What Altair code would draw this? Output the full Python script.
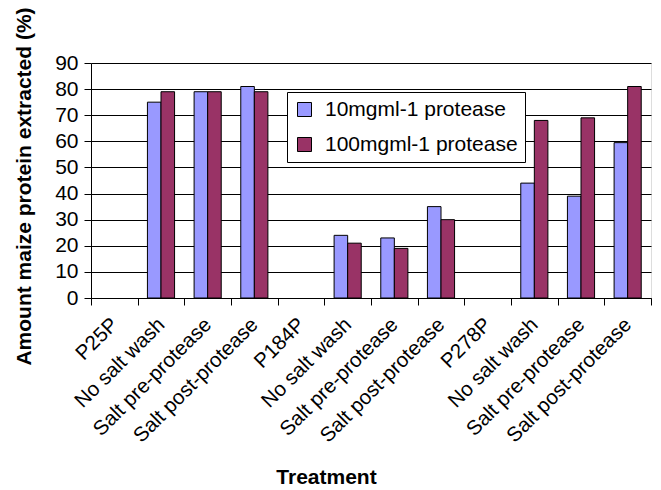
import altair as alt
import pandas as pd

labels = ["P25P", "No salt wash", "Salt pre-protease", "Salt post-protease",
          "P184P", "No salt wash", "Salt pre-protease", "Salt post-protease",
          "P278P", "No salt wash", "Salt pre-protease", "Salt post-protease"]
series = ["10mgml-1 protease", "100mgml-1 protease"]
# None = no bar
low = [None, 75, 79, 81, None, 24, 23, 35, None, 44, 39, 59.5]
high = [None, 79, 79, 79, None, 21, 19, 30, None, 68, 69, 81]

rows = []
for i, (a, b) in enumerate(zip(low, high)):
    if a is not None:
        rows.append({"idx": i, "series": series[0], "value": a})
    if b is not None:
        rows.append({"idx": i, "series": series[1], "value": b})
df = pd.DataFrame(rows)

label_js = "[" + ",".join("'" + s + "'" for s in labels) + "][datum.value]"
FONT = "Liberation Sans"

chart = alt.Chart(df).mark_bar(stroke="black", strokeWidth=1).encode(
    x=alt.X("idx:O",
            scale=alt.Scale(domain=list(range(12)), paddingInner=0, paddingOuter=0),
            axis=alt.Axis(title="Treatment", labelExpr=label_js, labelAngle=-45,
                          tickBand="extent", tickSize=7, tickColor="black",
                          domainColor="black", labelFontSize=20.5, labelFont=FONT,
                          labelColor="black", labelPadding=9, labelOffset=-7,
                          labelLimit=400, titleFont=FONT,
                          titleFontSize=21, titleFontWeight="bold", titleColor="black",
                          titleX=235, titleY=179, titleBaseline="middle",
                          titleAnchor="start", titleAlign="center", grid=False)),
    xOffset=alt.XOffset("series:N", sort=series,
                        scale=alt.Scale(domain=series, paddingOuter=0.72, paddingInner=0)),
    y=alt.Y("value:Q",
            scale=alt.Scale(domain=[0, 90], nice=False),
            axis=alt.Axis(title="Amount maize protein extracted (%)",
                          values=list(range(0, 91, 10)), tickSize=7, tickColor="black",
                          domainColor="black", gridColor="black", gridWidth=1,
                          labelFontSize=21, labelFont=FONT, labelColor="black",
                          labelPadding=6, titleFont=FONT, titleFontSize=21,
                          titleFontWeight="bold", titleColor="black",
                          titleAngle=270, titleX=-67, titleY=123,
                          titleBaseline="middle", titleAlign="center")),
    color=alt.Color("series:N", sort=series,
                    scale=alt.Scale(domain=series, range=["#9999FF", "#993366"]),
                    legend=alt.Legend(title=None, orient="none", legendX=196, legendY=29,
                                      fillColor="white", strokeColor="black",
                                      padding=7, rowPadding=13, symbolType="square",
                                      symbolSize=196, symbolStrokeColor="black",
                                      symbolStrokeWidth=1, symbolOpacity=1,
                                      labelFontSize=21, labelFont=FONT, labelLimit=400,
                                      labelColor="black", labelOffset=10)),
).properties(
    width=560, height=235,
    autosize=alt.AutoSizeParams(type="none"),
    padding={"left": 91, "top": 63, "right": 10, "bottom": 192},
).configure_view(fill="#C0C0C0", stroke="#808080").configure(background="white")

chart.save("out.html", embed_options={"renderer": "svg", "actions": False})
